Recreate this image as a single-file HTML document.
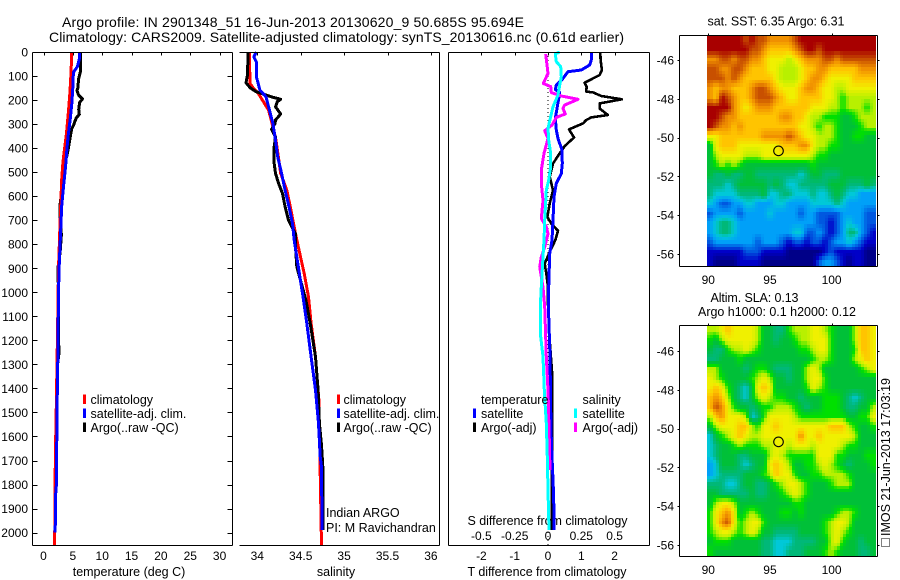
<!DOCTYPE html>
<html>
<head>
<meta charset="utf-8">
<title>Argo profile</title>
<style>
html,body{margin:0;padding:0;background:#fff;}
svg{display:block;}
text{font-family:"Liberation Sans",sans-serif;font-size:12.5px;fill:#000;}
.t14{font-size:14px;}
.num{font-size:12px;}
</style>
</head>
<body>
<svg id="chart" xmlns="http://www.w3.org/2000/svg" width="900" height="580" viewBox="0 0 900 580">
<rect x="0" y="0" width="900" height="580" fill="#fff"/>
<text class="t14" x="62" y="27" textLength="462">Argo profile: IN 2901348_51 16-Jun-2013 20130620_9 50.685S 95.694E</text>
<text class="t14" x="49" y="42" textLength="575">Climatology: CARS2009. Satellite-adjusted climatology: synTS_20130616.nc (0.61d earlier)</text>
<text x="129" y="576" text-anchor="middle">temperature (deg C)</text>
<text x="336" y="576" text-anchor="middle">salinity</text>
<text x="467.5" y="576" textLength="159">T difference from climatology</text>
<text x="467.5" y="525" textLength="160">S difference from climatology</text>
<text x="326" y="517">Indian ARGO</text>
<text x="326" y="532">PI: M Ravichandran</text>
<text x="707.5" y="25.5" textLength="137">sat. SST: 6.35  Argo: 6.31</text>
<text x="710.5" y="302" textLength="88">Altim. SLA: 0.13</text>
<text x="698" y="316" textLength="158">Argo h1000: 0.1 h2000: 0.12</text>
<text transform="translate(890,536) rotate(-90)" textLength="158">IMOS 21-Jun-2013 17:03:19</text>
<rect x="881.5" y="538.5" width="8" height="8" fill="none" stroke="#000" stroke-width="1" stroke-dasharray="1 1" shape-rendering="crispEdges"/>
</svg>
<script>
// ---------- temperature panel data ----------
const depthTicks = [0,100,200,300,400,500,600,700,800,900,1000,1100,1200,1300,1400,1500,1600,1700,1800,1900,2000];
const tempTicks = [0,5,10,15,20,25,30];
const climTempDepth = [0,80,170,260,340,400,460,530,630,730,900,1150,1450,1650,1850,2052];
const climTemp = [4.8,4.7,4.5,4.2,3.9,3.6,3.3,3.1,2.95,2.8,2.55,2.4,2.2,2.05,1.95,1.9];
const satTempDepth = [0,30,60,85,150,220,280,340,400,480,560,640,760,900,1000,1250,1500,1800,1850,2000];
const satTemp = [6.15,6.1,5.8,5.1,5.0,4.8,4.55,4.25,4.0,3.75,3.4,3.1,2.9,2.65,2.55,2.45,2.3,2.2,2.05,2.0];
const argoTempDepth = [0,80,110,150,160,180,195,210,240,260,275,300,320,340,400,430,470,520,600,630,700,760,830,900,1000,1260,1300,1530,1540,1700,1830,1850,2000];
const argoTemp = [6.3,6.3,6.0,5.85,5.7,6.0,6.65,6.15,6.0,6.1,5.55,5.2,4.8,4.65,4.25,4.0,3.5,3.25,3.0,2.85,2.85,3.05,2.85,2.45,2.55,2.6,2.4,2.2,2.15,2.15,2.0,2.05,2.0];

// ---------- salinity panel data ----------
const salTicks = [34,34.5,35,35.5,36];
const salTickLabels = ['34','34.5','35','35.5','36'];
const climSalDepth = [0,130,151,172,207,242,297,367,505,575,644,756,839,922,1019,1129,1268,1450,2052];
const climSal = [33.91,33.915,33.955,34.01,34.07,34.13,34.17,34.215,34.27,34.34,34.38,34.44,34.49,34.54,34.59,34.62,34.67,34.71,34.74];
const satSalDepth = [0,20,42,103,158,186,228,297,367,436,505,575,644,714,783,853,922,1026,1129,1268,1407,1545,1684,1726,1962,1990];
const satSal = [33.99,33.96,33.99,33.99,34.03,34.1,34.13,34.18,34.21,34.235,34.28,34.32,34.365,34.405,34.425,34.455,34.485,34.53,34.57,34.62,34.67,34.705,34.725,34.74,34.745,34.745];
const argoSalDepth = [0,50,100,128,150,165,180,189,197,207,228,258,283,297,322,353,394,464,505,547,589,644,700,756,811,894,1032,1129,1268,1407,1545,1636,1726,1962,1990];
const argoSal = [33.896,33.89,33.885,33.87,33.92,33.985,34.11,34.185,34.27,34.23,34.21,34.27,34.21,34.205,34.165,34.21,34.195,34.195,34.21,34.245,34.29,34.32,34.36,34.44,34.44,34.455,34.56,34.61,34.67,34.70,34.715,34.74,34.755,34.755,34.755];

// ---------- difference panel data ----------
const tDiffTicks = [-2,-1,0,1,2];
const sDiffTicks = [-0.5,-0.25,0,0.25,0.5];
const sDiffTickLabels = ['-0.5','-0.25','0','0.25','0.5'];
const tDiffTickLabels = ['-2','-1','0','1','2'];
const argoTDiffDepth = [0,33,75,96,110,128,144,165,168,183,197,214,235,262,272,283,297,322,356,392,422,464,519,575,631,686,714,744,783,832,881,922,978,1050,1200,1330,1530,1800,1950,1990];
const argoTDiff = [1.57,1.58,1.62,1.55,1.35,1.10,1.16,1.15,1.35,1.60,2.22,1.55,1.55,1.80,1.30,1.15,1.05,0.63,0.78,0.50,0.35,0.15,0.05,0.15,0.05,-0.02,0.10,0.30,0.22,0.05,-0.10,-0.05,0.0,0.0,0.05,0.12,0.12,0.12,0.12,0.12];
const satTDiffDepth = [0,33,54,75,82,110,138,156,169,228,276,325,360,408,464,506,547,603,700,783,839,978,1100,1268,1573,1684,1851,1990];
const satTDiff = [1.31,1.30,1.25,1.0,0.6,0.45,0.25,0.22,0.35,0.28,0.22,0.25,0.30,0.42,0.43,0.40,0.25,0.18,0.15,0.12,0.05,0.02,0.02,0.06,0.09,0.12,0.17,0.18];
const satSDiffDepth = [0,8,40,61,103,138,179,228,269,318,367,422,478,533,575,700,783,853,978,1060,1170,1268,1407,1545,1684,1823,1990];
const satSDiff = [0.0875,0.055,0.0625,0.095,0.10,0.0875,0.075,0.0375,0.02,0,0.005,0.02,0.02,0.005,-0.0125,-0.025,-0.03,-0.0375,-0.05,-0.0575,-0.0575,-0.0375,-0.0275,-0.0125,-0.005,0,0.0075];
const argoSDiffDepth = [8,54,89,131,144,169,183,197,221,235,258,272,304,328,360,422,492,547,617,693,728,756,811,853,894,978,1060,1268,1407,1615,1740];
const argoSDiff = [-0.0175,-0.0075,0,-0.035,0.02,0.025,0.10,0.225,0.125,0.1125,0.13,0.0625,0.03,-0.025,0,-0.03,-0.05,-0.05,-0.0375,-0.05,-0.0125,0,-0.025,-0.05,-0.0625,-0.0375,-0.025,-0.0125,0,0.01,0.015];

// ---------- map data (colour-scale level per 0.5 degree cell) ----------
const mapLonTicks = [90,95,100];
const mapLatTicks = [-46,-48,-50,-52,-54,-56];
const floatLon = 95.694;
const floatLat = -50.685;
const sstGrid = [
[13,13,13,13,13,13,12,13,12,12,11,11,11,11,12,13,13,13,13,13,13,13,13,13,13,13,13,13],
[13,13,13,13,13,13,13,12,12,11,10,10,10,10,11,12,13,13,12,13,13,13,13,13,13,13,13,13],
[11,11,12,12,11,12,12,11,11,10,9,9,9,8,9,10,11,11,11,12,12,11,12,12,12,12,12,12],
[12,12,11,11,12,12,11,10,10,10,9,9,8,8,8,9,10,10,11,11,10,10,10,10,10,11,11,11],
[12,12,12,11,12,11,10,10,10,10,10,9,8,8,8,9,10,11,11,10,9,9,9,9,10,10,10,10],
[11,10,11,11,10,10,10,11,12,12,11,10,9,9,9,10,11,11,10,9,9,8,8,9,9,9,9,9],
[11,10,13,12,11,10,10,11,12,12,12,11,10,9,9,10,10,10,10,9,9,8,7,8,8,8,8,8],
[13,13,13,13,11,10,9,10,11,11,11,10,10,10,10,10,10,9,9,9,8,8,7,8,8,8,7,8],
[13,13,12,11,11,10,10,10,10,10,10,10,11,11,10,10,9,8,8,7,7,7,6,6,7,8,8,8],
[13,12,11,11,10,11,10,10,10,10,10,10,10,10,10,9,9,8,7,8,8,7,6,6,6,7,8,8],
[9,9,10,10,10,10,10,10,10,11,11,11,11,12,11,10,9,9,8,8,8,7,6,6,7,7,6,6],
[6,9,10,10,10,9,9,9,9,9,9,9,10,10,10,11,11,9,8,8,7,7,6,6,6,6,6,6],
[6,8,9,9,9,9,8,8,8,9,9,9,9,9,9,9,9,8,7,7,6,6,6,6,6,6,6,6],
[6,7,8,7,8,7,6,6,6,6,6,6,6,6,6,6,6,7,6,6,6,6,6,6,6,6,6,6],
[6,5,5,6,5,5,6,6,5,5,5,5,5,5,5,4,5,6,6,5,5,5,6,6,6,6,6,6],
[5,5,5,4,5,6,6,6,6,6,5,6,5,4,4,5,5,5,5,5,6,6,6,5,5,5,6,5],
[5,4,4,4,4,5,5,5,5,6,4,4,5,5,4,4,4,5,4,4,5,6,5,4,4,3,3,3],
[4,3,2,2,3,3,4,4,3,3,3,4,4,3,3,3,3,4,4,4,4,5,4,3,3,3,3,3],
[2,3,3,3,3,2,3,3,3,3,4,3,3,3,3,2,3,3,2,2,2,2,3,3,3,3,2,2],
[3,4,5,5,4,3,3,3,3,3,3,3,3,3,3,3,3,3,2,2,1,2,3,4,3,3,2,2],
[3,4,5,5,4,3,3,3,3,3,3,3,3,3,4,4,2,2,3,2,1,2,3,5,5,3,2,1],
[2,3,3,3,3,3,3,3,2,3,3,3,2,1,2,2,1,2,2,1,2,3,3,4,3,2,1,1],
[1,1,1,1,1,1,2,2,2,1,1,1,1,0,0,0,0,0,0,1,2,1,1,1,1,1,0,0],
[1,0,0,0,0,1,1,1,1,0,0,0,0,0,0,0,0,0,2,3,3,2,1,0,1,1,0,0]
];
const slaGrid = [
[8,8,9,10,9,9,9,9,8,6,6,5,5,7,8,8,8,9,9,8,7,6,6,6,8,10,10,9],
[7,6,8,9,9,9,9,9,8,6,6,5,6,6,7,8,8,9,9,9,7,6,6,6,8,10,10,9],
[6,5,5,7,8,8,9,8,7,6,6,6,6,6,6,7,7,8,9,9,7,6,6,6,7,10,10,9],
[5,5,6,6,6,7,6,6,6,6,6,6,6,6,6,6,6,7,8,8,7,6,6,6,8,9,10,9],
[8,8,6,6,6,6,5,6,7,7,6,5,5,5,6,6,8,9,8,6,6,6,6,6,6,7,8,9],
[9,8,7,6,6,6,6,7,8,9,8,6,6,5,6,6,8,9,9,7,6,6,6,6,6,6,6,6],
[9,10,9,7,6,5,4,6,9,10,9,6,6,6,6,6,7,9,8,7,6,6,6,6,6,6,6,6],
[10,11,10,8,6,5,4,6,8,9,8,7,7,6,6,5,6,6,6,7,7,7,6,5,4,5,6,6],
[10,12,11,9,7,6,6,5,6,7,7,8,8,8,7,6,5,6,6,7,7,7,6,5,5,6,6,8],
[8,10,11,9,9,9,8,4,5,7,9,9,9,9,8,7,7,7,7,7,7,7,7,6,6,7,7,9],
[6,8,9,9,9,10,10,8,7,9,9,10,9,9,9,9,9,9,9,9,10,10,10,8,7,6,6,7],
[4,6,7,8,9,10,9,8,8,9,9,9,9,9,9,11,9,9,10,9,9,9,9,9,8,6,6,6],
[4,5,6,6,7,8,7,7,7,8,8,9,9,8,9,9,9,8,9,9,9,9,8,7,7,6,6,6],
[4,5,6,6,6,5,5,6,6,6,8,9,8,7,7,7,7,7,9,9,9,7,7,6,6,6,7,7],
[3,4,6,6,6,5,4,5,6,6,9,10,9,8,6,6,7,7,8,9,8,7,6,5,6,6,6,7],
[3,4,5,5,5,5,6,6,6,7,8,10,9,9,7,6,6,7,7,8,8,8,8,7,6,6,6,6],
[5,5,5,4,4,5,6,6,5,5,6,7,8,9,9,8,7,6,6,6,7,8,8,8,6,6,6,6],
[6,6,5,5,5,5,5,6,5,5,6,6,7,8,9,8,7,6,6,6,6,6,6,6,6,6,6,6],
[6,8,9,9,8,6,6,6,6,6,6,6,6,6,7,7,6,6,6,6,6,6,6,6,6,6,6,6],
[7,9,10,11,9,6,7,8,7,6,6,6,7,7,6,7,6,6,6,6,6,7,8,8,7,6,6,6],
[7,9,11,12,9,7,8,9,9,7,6,6,6,6,6,6,6,6,6,7,8,9,9,8,6,6,6,6],
[7,8,9,9,8,7,8,9,8,6,6,5,5,5,5,6,6,6,6,7,8,9,8,7,6,6,6,6],
[6,7,7,7,6,6,6,6,6,5,5,4,4,4,5,5,5,5,6,6,8,9,7,6,6,5,6,6],
[7,6,6,6,6,6,6,6,6,5,5,4,4,5,5,5,6,6,6,7,8,7,6,6,6,5,5,6]
];
const levelColors = [[0,0,136],[0,0,200],[0,88,224],[0,160,248],[0,200,216],[0,184,120],[0,192,56],[0,224,0],[184,240,0],[240,240,0],[255,196,0],[240,144,0],[200,80,0],[168,0,0]];

// ---------- scales ----------
const NS = 'http://www.w3.org/2000/svg';
const svg = document.getElementById('chart');
const yDepth = d => 52 + d * 0.2403;
const xTemp = t => 43.5 + t * 5.87;
const xSal = s => 257.3 + (s - 34) * 86.8;
const xTDiff = t => 548 + t * 33.3;
const xSDiff = s => 548 + s * 133.2;
const xLon = lon => 708.3 + (lon - 90) * 12.33;
const ySst = lat => 60 + (-46 - lat) * 19.4;
const ySla = lat => 351 + (-46 - lat) * 19.4;

function make(tag, attrs, txt) {
  const e = document.createElementNS(NS, tag);
  for (const k in attrs) e.setAttribute(k, attrs[k]);
  if (txt !== undefined) e.textContent = txt;
  svg.appendChild(e);
  return e;
}
function hv(x1, y1, x2, y2) {
  return make('line', {x1: x1, y1: y1, x2: x2, y2: y2, stroke: '#000', 'stroke-width': 1, 'shape-rendering': 'crispEdges'});
}

function drawSeries(depths, values, xf, color, width, name) {
  const pts = depths.map((d, i) => xf(values[i]).toFixed(1) + ',' + yDepth(d).toFixed(1)).join(' ');
  const line = make('polyline', {points: pts, fill: 'none', stroke: color, 'stroke-width': width, 'stroke-linejoin': 'round', 'shape-rendering': 'crispEdges'});
  
  
}

function levelColor(v) {
  const c = Math.max(0, Math.min(13, v));
  const i = Math.min(12, Math.floor(c));
  const f = c - i;
  const a = levelColors[i], b = levelColors[i + 1];
  return 'rgb(' + [0, 1, 2].map(k => Math.round(a[k] + (b[k] - a[k]) * f)).join(',') + ')';
}
function sampleGrid(grid, rf, cf) {
  const rows = grid.length, cols = grid[0].length;
  const r = Math.max(0, Math.min(rows - 1, rf));
  const c = Math.max(0, Math.min(cols - 1, cf));
  const r0 = Math.floor(r), c0 = Math.floor(c);
  const r1 = Math.min(rows - 1, r0 + 1), c1 = Math.min(cols - 1, c0 + 1);
  const fr = r - r0, fc = c - c0;
  return grid[r0][c0] * (1 - fr) * (1 - fc) + grid[r0][c1] * (1 - fr) * fc + grid[r1][c0] * fr * (1 - fc) + grid[r1][c1] * fr * fc;
}
function drawMap(grid, yf, latTop, lonLeft, name) {
  const lonStep = 0.4895, latStep = 0.4955, subC = 2, subR = 3;
  const rows = grid.length * subR, cols = grid[0].length * subC;
  for (let r = 0; r < rows; r++) {
    for (let c = 0; c < cols; c++) {
      const x0 = Math.round(xLon(lonLeft + (c / subC) * lonStep));
      const x1 = Math.round(xLon(lonLeft + ((c + 1) / subC) * lonStep));
      const y0 = Math.round(yf(latTop - (r / subR) * latStep));
      const y1 = Math.round(yf(latTop - ((r + 1) / subR) * latStep));
      const v = sampleGrid(grid, (r + 0.5) / subR - 0.5, (c + 0.5) / subC - 0.5);
      const cell = make('rect', {x: x0, y: y0, width: x1 - x0, height: y1 - y0, fill: levelColor(v), 'shape-rendering': 'crispEdges'});
      
      
    }
  }
}

// ---------- map images first, so frames sit above them ----------
drawMap(sstGrid, ySst, -44.727, 89.9, 'sst-map-cell');
drawMap(slaGrid, ySla, -44.68, 89.9, 'sla-map-cell');

// ---------- series ----------
drawSeries(argoTempDepth, argoTemp, xTemp, '#000', 3, 'temperature-argo-line');
drawSeries(climTempDepth, climTemp, xTemp, '#f00', 3, 'temperature-climatology-line');
drawSeries(satTempDepth, satTemp, xTemp, '#00f', 3, 'temperature-satellite-line');
drawSeries(climSalDepth, climSal, xSal, '#f00', 3, 'salinity-climatology-line');
drawSeries(argoSalDepth, argoSal, xSal, '#000', 3, 'salinity-argo-line');
drawSeries(satSalDepth, satSal, xSal, '#00f', 3, 'salinity-satellite-line');

const zeroLine = make('line', {x1: xTDiff(0), y1: yDepth(0), x2: xTDiff(0), y2: 545, stroke: '#000', 'stroke-width': 1, 'stroke-dasharray': '1 3', 'shape-rendering': 'crispEdges'});


drawSeries(argoTDiffDepth, argoTDiff, xTDiff, '#000', 2.6, 'argo-t-difference-line');
drawSeries(satTDiffDepth, satTDiff, xTDiff, '#00f', 3, 'satellite-t-difference-line');
drawSeries(argoSDiffDepth, argoSDiff, xSDiff, '#f0f', 3, 'argo-s-difference-line');
drawSeries(satSDiffDepth, satSDiff, xSDiff, '#0ff', 3, 'satellite-s-difference-line');

// ---------- frames ----------
const frames = [
  [32.5, 52.5, 232.5, 52.5, 'temperature-panel-top'],
  [32.5, 545.5, 232.5, 545.5, 'temperature-panel-bottom'],
  [32.5, 52.5, 32.5, 545.5, 'temperature-panel-left'],
  [232.5, 52.5, 232.5, 545.5, 'temperature-panel-right'],
  [239.5, 52.5, 439.5, 52.5, 'salinity-panel-top'],
  [239.5, 545.5, 439.5, 545.5, 'salinity-panel-bottom'],
  [439.5, 52.5, 439.5, 545.5, 'salinity-panel-right'],
  [448.5, 52.5, 649.5, 52.5, 'difference-panel-top'],
  [448.5, 545.5, 649.5, 545.5, 'difference-panel-bottom'],
  [448.5, 52.5, 448.5, 545.5, 'difference-panel-left'],
  [649.5, 52.5, 649.5, 545.5, 'difference-panel-right'],
  [679.5, 35.5, 877.5, 35.5, 'sst-map-top'],
  [679.5, 266.5, 877.5, 266.5, 'sst-map-bottom'],
  [679.5, 35.5, 679.5, 266.5, 'sst-map-left'],
  [877.5, 35.5, 877.5, 266.5, 'sst-map-right'],
  [679.5, 325.5, 877.5, 325.5, 'sla-map-top'],
  [679.5, 556.5, 877.5, 556.5, 'sla-map-bottom'],
  [679.5, 325.5, 679.5, 556.5, 'sla-map-left'],
  [877.5, 325.5, 877.5, 556.5, 'sla-map-right']
];
frames.forEach(f => {
  const l = hv(f[0], f[1], f[2], f[3]);
  
  
});

// ---------- depth axis ----------
depthTicks.forEach(d => {
  const y = Math.round(yDepth(d)) + 0.5;
  const a = hv(32.5, y, 37.5, y);
  
  
  const b = hv(227.5, y, 232.5, y);
  
  
  const t = make('text', {class: 'num', x: 28, y: yDepth(d) + 4.5, 'text-anchor': 'end'}, String(d));
  
  
});

// ---------- x axes ----------
function xAxis(ticks, labels, xf, baseline, tickName, labelName, withTicks) {
  ticks.forEach((v, i) => {
    const x = Math.round(xf(v)) + 0.5;
    if (withTicks) {
      const a = hv(x, 52.5, x, 55.5);
      
      
    }
    const t = make('text', {class: 'num', x: xf(v), y: baseline, 'text-anchor': 'middle'}, labels[i]);
    
    
  });
}
xAxis(tempTicks, tempTicks.map(String), xTemp, 560, 'temperature-tick', 'temperature-tick-label', true);
xAxis(salTicks, salTickLabels, xSal, 560, 'salinity-tick', 'salinity-tick-label', true);
xAxis(tDiffTicks, tDiffTickLabels, xTDiff, 560, 't-difference-tick', 't-difference-tick-label', true);
xAxis(sDiffTicks, sDiffTickLabels, xSDiff, 540, 's-difference-tick', 's-difference-tick-label', false);

// ---------- legends ----------
const legendLabels = ['climatology', 'satellite-adj. clim.', 'Argo(..raw -QC)'];
const legendColors = ['#f00', '#00f', '#000'];
const diffLegendLabels = ['satellite', 'Argo(-adj)'];
const legendBaselines = [404, 418, 432];
function legendEntry(mx, tx, row, color, label, name) {
  const b = legendBaselines[row];
  const m = make('rect', {x: mx, y: b - 9.5, width: 3, height: 9.5, fill: color, 'shape-rendering': 'crispEdges'});
  
  
  const t = make('text', {x: tx, y: b}, label);
  
  
}
legendLabels.forEach((l, i) => {
  legendEntry(83, 90.5, i, legendColors[i], l, 'temperature-legend-entry');
  legendEntry(337, 343.5, i, legendColors[i], l, 'salinity-legend-entry');
});
legendEntry(473, 481, 1, '#00f', diffLegendLabels[0], 'temperature-diff-legend-satellite');
legendEntry(473, 481, 2, '#000', diffLegendLabels[1], 'temperature-diff-legend-argo');
legendEntry(574, 582.5, 1, '#0ff', diffLegendLabels[0], 'salinity-diff-legend-satellite');
legendEntry(574, 582.5, 2, '#f0f', diffLegendLabels[1], 'salinity-diff-legend-argo');
const tempHead = make('text', {x: 481, y: 404}, 'temperature');


const salHead = make('text', {x: 582.5, y: 404}, 'salinity');



// ---------- map axes ----------
function mapAxes(yf, top, bottom, prefix) {
  mapLonTicks.forEach(lon => {
    const x = Math.round(xLon(lon)) + 0.5;
    const a = hv(x, top - 2, x, top);
    
    
    const t = make('text', {class: 'num', x: xLon(lon), y: bottom + 17.5, 'text-anchor': 'middle'}, String(lon));
    
    
  });
  mapLatTicks.forEach(lat => {
    const y = Math.round(yf(lat)) + 0.5;
    const a = hv(677.5, y, 679.5, y);
    
    
    const b = hv(877.5, y, 879.5, y);
    
    
    const t = make('text', {class: 'num', x: 674, y: yf(lat) + 4.5, 'text-anchor': 'end'}, String(lat));
    
    
  });
}
mapAxes(ySst, 35.5, 266.5, 'sst-map');
mapAxes(ySla, 325.5, 556.5, 'sla-map');

// ---------- float position markers ----------
const sstFloat = make('circle', {cx: xLon(floatLon), cy: ySst(floatLat), r: 4.8, fill: 'none', stroke: '#000', 'stroke-width': 1.1});


const slaFloat = make('circle', {cx: xLon(floatLon), cy: ySla(floatLat), r: 4.8, fill: 'none', stroke: '#000', 'stroke-width': 1.1});


</script>
</body>
</html>
